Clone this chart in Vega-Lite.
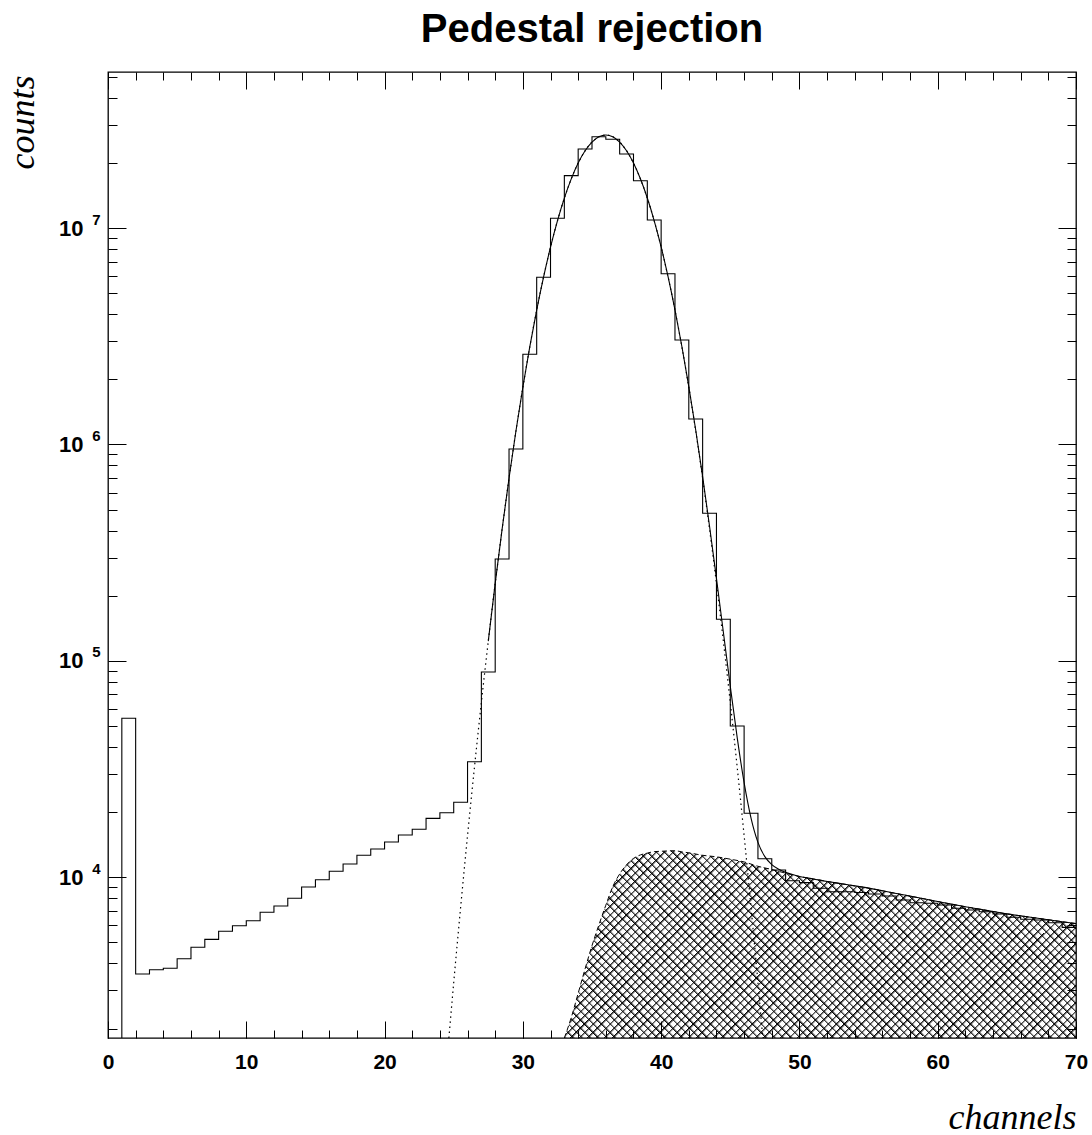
{
"$schema":"https://vega.github.io/schema/vega-lite/v6.json",
"autosize":{"type":"none"},
"padding":{"left":108,"top":72,"right":16,"bottom":97},
"width":968,"height":966,
"background":"#ffffff",
"title":{"text":"Pedestal rejection","font":"Liberation Sans","fontSize":40,"fontWeight":"bold","color":"#000","anchor":"middle","offset":22},
"config":{
 "view":{"stroke":"#000","strokeWidth":1.3},
 "axis":{"grid":false,"domain":false,"tickColor":"#000","tickWidth":1,"labelColor":"#000","titleColor":"#000","labelFont":"Liberation Sans","labelFontWeight":"bold","labelFontSize":21,"labelFlush":false,"labelOverlap":false,"zindex":1}
},
"datasets":{
 "hist":[{"x":0,"y":1},{"x":1,"y":54300},{"x":2,"y":3574},{"x":3,"y":3741},{"x":4,"y":3797},{"x":5,"y":4206},{"x":6,"y":4748},{"x":7,"y":5169},{"x":8,"y":5629},{"x":9,"y":5974},{"x":10,"y":6300},{"x":11,"y":6893},{"x":12,"y":7369},{"x":13,"y":7998},{"x":14,"y":9020},{"x":15,"y":9750},{"x":16,"y":10660},{"x":17,"y":11520},{"x":18,"y":12640},{"x":19,"y":13510},{"x":20,"y":14560},{"x":21,"y":15690},{"x":22,"y":16670},{"x":23,"y":18730},{"x":24,"y":19890},{"x":25,"y":22210},{"x":26,"y":34210},{"x":27,"y":88870},{"x":28,"y":295800},{"x":29,"y":953400},{"x":30,"y":2611000},{"x":31,"y":5924000},{"x":32,"y":11100000},{"x":33,"y":17470000},{"x":34,"y":23210000},{"x":35,"y":26450000},{"x":36,"y":25720000},{"x":37,"y":22000000},{"x":38,"y":16560000},{"x":39,"y":10900000},{"x":40,"y":6155000},{"x":41,"y":3040000},{"x":42,"y":1312000},{"x":43,"y":481000},{"x":44,"y":155700},{"x":45,"y":50030},{"x":46,"y":19760},{"x":47,"y":12190},{"x":48,"y":10810},{"x":49,"y":9645},{"x":50,"y":9445},{"x":51,"y":8896},{"x":52,"y":8581},{"x":53,"y":8581},{"x":54,"y":8508},{"x":55,"y":8373},{"x":56,"y":8196},{"x":57,"y":7855},{"x":58,"y":7632},{"x":59,"y":7584},{"x":60,"y":7447},{"x":61,"y":7190},{"x":62,"y":7062},{"x":63,"y":6935},{"x":64,"y":6767},{"x":65,"y":6534},{"x":66,"y":6396},{"x":67,"y":6349},{"x":68,"y":6168},{"x":69,"y":5873},{"x":70,"y":5873}],
 "fit":[{"x":27.5,"y":123400},{"x":28,"y":228200},{"x":28.5,"y":406600},{"x":29,"y":698300},{"x":29.5,"y":1154600},{"x":30,"y":1839000},{"x":30.5,"y":2824000},{"x":31,"y":4176000},{"x":31.5,"y":5950000},{"x":32,"y":8168000},{"x":32.5,"y":10800000},{"x":33,"y":13760000},{"x":33.5,"y":16890000},{"x":34,"y":19980000},{"x":34.5,"y":22760000},{"x":35,"y":24980000},{"x":35.5,"y":26420000},{"x":36,"y":26930000},{"x":36.5,"y":26430000},{"x":37,"y":24990000},{"x":37.5,"y":22770000},{"x":38,"y":19990000},{"x":38.5,"y":16900000},{"x":39,"y":13770000},{"x":39.5,"y":10810000},{"x":40,"y":8181000},{"x":40.5,"y":5963000},{"x":41,"y":4189000},{"x":41.5,"y":2837000},{"x":42,"y":1852000},{"x":42.5,"y":1167000},{"x":43,"y":710900},{"x":43.5,"y":419100},{"x":44,"y":240600},{"x":44.5,"y":135700},{"x":45,"y":76400},{"x":45.5,"y":44210},{"x":46,"y":27380},{"x":46.5,"y":18790},{"x":47,"y":14510},{"x":47.5,"y":12460},{"x":48,"y":11450},{"x":48.5,"y":10890},{"x":49,"y":10540},{"x":49.5,"y":10300},{"x":50,"y":10090},{"x":51,"y":9830},{"x":52,"y":9572},{"x":53,"y":9348},{"x":54,"y":9127},{"x":55,"y":8913},{"x":56,"y":8664},{"x":57,"y":8421},{"x":58,"y":8185},{"x":59,"y":7955},{"x":60,"y":7727},{"x":61,"y":7516},{"x":62,"y":7311},{"x":63,"y":7129},{"x":64,"y":6950},{"x":65,"y":6776},{"x":66,"y":6637},{"x":67,"y":6501},{"x":68,"y":6368},{"x":69,"y":6237},{"x":70,"y":6109}],
 "gaus":[{"x":24.65,"y":1809},{"x":25,"y":3261},{"x":25.5,"y":7267},{"x":26,"y":15600},{"x":26.5,"y":32260},{"x":27,"y":64270},{"x":27.5,"y":123400},{"x":28,"y":228200},{"x":28.5,"y":406600},{"x":29,"y":698300},{"x":29.5,"y":1154600},{"x":30,"y":1839000},{"x":30.5,"y":2824000},{"x":31,"y":4176000},{"x":31.5,"y":5950000},{"x":32,"y":8168000},{"x":32.5,"y":10800000},{"x":33,"y":13760000},{"x":33.5,"y":16890000},{"x":34,"y":19980000},{"x":34.5,"y":22760000},{"x":35,"y":24980000},{"x":35.5,"y":26420000},{"x":36,"y":26920000},{"x":36.5,"y":26420000},{"x":37,"y":24980000},{"x":37.5,"y":22760000},{"x":38,"y":19980000},{"x":38.5,"y":16890000},{"x":39,"y":13760000},{"x":39.5,"y":10800000},{"x":40,"y":8168000},{"x":40.5,"y":5950000},{"x":41,"y":4176000},{"x":41.5,"y":2824000},{"x":42,"y":1839000},{"x":42.5,"y":1154600},{"x":43,"y":698300},{"x":43.5,"y":406600},{"x":44,"y":228200},{"x":44.5,"y":123400},{"x":45,"y":64270},{"x":45.5,"y":32260},{"x":46,"y":15600},{"x":46.5,"y":7267},{"x":47,"y":3261},{"x":47.35,"y":1809}],
 "bg":[{"x":33,"y":1809},{"x":33.5,"y":2249},{"x":34,"y":2912},{"x":34.5,"y":3777},{"x":35,"y":4833},{"x":35.5,"y":6031},{"x":36,"y":7432},{"x":36.5,"y":9050},{"x":37,"y":10366},{"x":37.5,"y":11429},{"x":38,"y":12226},{"x":38.5,"y":12690},{"x":39,"y":12935},{"x":39.5,"y":13142},{"x":40,"y":13191},{"x":40.5,"y":13243},{"x":41,"y":13270},{"x":41.5,"y":13106},{"x":42,"y":12980},{"x":43,"y":12640},{"x":44,"y":12435},{"x":45,"y":12126},{"x":46,"y":11776},{"x":47,"y":11246},{"x":48,"y":10864},{"x":49,"y":10447},{"x":50,"y":10093},{"x":51,"y":9830},{"x":52,"y":9572},{"x":53,"y":9348},{"x":54,"y":9127},{"x":55,"y":8913},{"x":56,"y":8664},{"x":57,"y":8421},{"x":58,"y":8185},{"x":59,"y":7955},{"x":60,"y":7727},{"x":61,"y":7516},{"x":62,"y":7311},{"x":63,"y":7129},{"x":64,"y":6950},{"x":65,"y":6776},{"x":66,"y":6637},{"x":67,"y":6501},{"x":68,"y":6368},{"x":69,"y":6237},{"x":70,"y":6109}]
},
"resolve":{"axis":{"x":"independent","y":"independent"}},
"layer":[
 {"data":{"name":"bg"},
  "mark":{"type":"area","interpolate":"monotone","clip":true,"fill":{"gradient":"linear","x1":0,"y1":0,"x2":1.2046,"y2":0.441,"stops":[
{"offset":0,"color":"#000"},{"offset":0.0045,"color":"#0000"},{"offset":0.012,"color":"#0000"},{"offset":0.012,"color":"#000"},{"offset":0.0165,"color":"#0000"},{"offset":0.024,"color":"#0000"},{"offset":0.024,"color":"#000"},{"offset":0.0285,"color":"#0000"},{"offset":0.036,"color":"#0000"},{"offset":0.036,"color":"#000"},{"offset":0.0405,"color":"#0000"},{"offset":0.048,"color":"#0000"},{"offset":0.048,"color":"#000"},{"offset":0.0525,"color":"#0000"},{"offset":0.06,"color":"#0000"},{"offset":0.06,"color":"#000"},{"offset":0.0645,"color":"#0000"},{"offset":0.072,"color":"#0000"},{"offset":0.072,"color":"#000"},{"offset":0.0765,"color":"#0000"},{"offset":0.084,"color":"#0000"},{"offset":0.084,"color":"#000"},{"offset":0.0885,"color":"#0000"},{"offset":0.096,"color":"#0000"},{"offset":0.096,"color":"#000"},{"offset":0.1005,"color":"#0000"},{"offset":0.108,"color":"#0000"},{"offset":0.108,"color":"#000"},{"offset":0.1125,"color":"#0000"},{"offset":0.12,"color":"#0000"},
{"offset":0.12,"color":"#000"},{"offset":0.1245,"color":"#0000"},{"offset":0.132,"color":"#0000"},{"offset":0.132,"color":"#000"},{"offset":0.1365,"color":"#0000"},{"offset":0.144,"color":"#0000"},{"offset":0.144,"color":"#000"},{"offset":0.1485,"color":"#0000"},{"offset":0.156,"color":"#0000"},{"offset":0.156,"color":"#000"},{"offset":0.1605,"color":"#0000"},{"offset":0.168,"color":"#0000"},{"offset":0.168,"color":"#000"},{"offset":0.1725,"color":"#0000"},{"offset":0.18,"color":"#0000"},{"offset":0.18,"color":"#000"},{"offset":0.1845,"color":"#0000"},{"offset":0.192,"color":"#0000"},{"offset":0.192,"color":"#000"},{"offset":0.1965,"color":"#0000"},{"offset":0.204,"color":"#0000"},{"offset":0.204,"color":"#000"},{"offset":0.2085,"color":"#0000"},{"offset":0.216,"color":"#0000"},{"offset":0.216,"color":"#000"},{"offset":0.2205,"color":"#0000"},{"offset":0.228,"color":"#0000"},{"offset":0.228,"color":"#000"},{"offset":0.2325,"color":"#0000"},{"offset":0.24,"color":"#0000"},
{"offset":0.24,"color":"#000"},{"offset":0.2445,"color":"#0000"},{"offset":0.252,"color":"#0000"},{"offset":0.252,"color":"#000"},{"offset":0.2565,"color":"#0000"},{"offset":0.264,"color":"#0000"},{"offset":0.264,"color":"#000"},{"offset":0.2685,"color":"#0000"},{"offset":0.276,"color":"#0000"},{"offset":0.276,"color":"#000"},{"offset":0.2805,"color":"#0000"},{"offset":0.288,"color":"#0000"},{"offset":0.288,"color":"#000"},{"offset":0.2925,"color":"#0000"},{"offset":0.3,"color":"#0000"},{"offset":0.3,"color":"#000"},{"offset":0.3045,"color":"#0000"},{"offset":0.312,"color":"#0000"},{"offset":0.312,"color":"#000"},{"offset":0.3165,"color":"#0000"},{"offset":0.324,"color":"#0000"},{"offset":0.324,"color":"#000"},{"offset":0.3285,"color":"#0000"},{"offset":0.336,"color":"#0000"},{"offset":0.336,"color":"#000"},{"offset":0.3405,"color":"#0000"},{"offset":0.348,"color":"#0000"},{"offset":0.348,"color":"#000"},{"offset":0.3525,"color":"#0000"},{"offset":0.36,"color":"#0000"},
{"offset":0.36,"color":"#000"},{"offset":0.3645,"color":"#0000"},{"offset":0.372,"color":"#0000"},{"offset":0.372,"color":"#000"},{"offset":0.3765,"color":"#0000"},{"offset":0.384,"color":"#0000"},{"offset":0.384,"color":"#000"},{"offset":0.3885,"color":"#0000"},{"offset":0.396,"color":"#0000"},{"offset":0.396,"color":"#000"},{"offset":0.4005,"color":"#0000"},{"offset":0.408,"color":"#0000"},{"offset":0.408,"color":"#000"},{"offset":0.4125,"color":"#0000"},{"offset":0.42,"color":"#0000"},{"offset":0.42,"color":"#000"},{"offset":0.4245,"color":"#0000"},{"offset":0.432,"color":"#0000"},{"offset":0.432,"color":"#000"},{"offset":0.4365,"color":"#0000"},{"offset":0.444,"color":"#0000"},{"offset":0.444,"color":"#000"},{"offset":0.4485,"color":"#0000"},{"offset":0.456,"color":"#0000"},{"offset":0.456,"color":"#000"},{"offset":0.4605,"color":"#0000"},{"offset":0.468,"color":"#0000"},{"offset":0.468,"color":"#000"},{"offset":0.4725,"color":"#0000"},{"offset":0.48,"color":"#0000"},
{"offset":0.48,"color":"#000"},{"offset":0.4845,"color":"#0000"},{"offset":0.492,"color":"#0000"},{"offset":0.492,"color":"#000"},{"offset":0.4965,"color":"#0000"},{"offset":0.504,"color":"#0000"},{"offset":0.504,"color":"#000"},{"offset":0.5085,"color":"#0000"},{"offset":0.516,"color":"#0000"},{"offset":0.516,"color":"#000"},{"offset":0.5205,"color":"#0000"},{"offset":0.528,"color":"#0000"},{"offset":0.528,"color":"#000"},{"offset":0.5325,"color":"#0000"},{"offset":0.54,"color":"#0000"},{"offset":0.54,"color":"#000"},{"offset":0.5445,"color":"#0000"},{"offset":0.552,"color":"#0000"},{"offset":0.552,"color":"#000"},{"offset":0.5565,"color":"#0000"},{"offset":0.564,"color":"#0000"},{"offset":0.564,"color":"#000"},{"offset":0.5685,"color":"#0000"},{"offset":0.576,"color":"#0000"},{"offset":0.576,"color":"#000"},{"offset":0.5805,"color":"#0000"},{"offset":0.588,"color":"#0000"},{"offset":0.588,"color":"#000"},{"offset":0.5925,"color":"#0000"},{"offset":0.6,"color":"#0000"},
{"offset":0.6,"color":"#000"},{"offset":0.6045,"color":"#0000"},{"offset":0.612,"color":"#0000"},{"offset":0.612,"color":"#000"},{"offset":0.6165,"color":"#0000"},{"offset":0.624,"color":"#0000"},{"offset":0.624,"color":"#000"},{"offset":0.6285,"color":"#0000"},{"offset":0.636,"color":"#0000"},{"offset":0.636,"color":"#000"},{"offset":0.6405,"color":"#0000"},{"offset":0.648,"color":"#0000"},{"offset":0.648,"color":"#000"},{"offset":0.6525,"color":"#0000"},{"offset":0.66,"color":"#0000"},{"offset":0.66,"color":"#000"},{"offset":0.6645,"color":"#0000"},{"offset":0.672,"color":"#0000"},{"offset":0.672,"color":"#000"},{"offset":0.6765,"color":"#0000"},{"offset":0.684,"color":"#0000"},{"offset":0.684,"color":"#000"},{"offset":0.6885,"color":"#0000"},{"offset":0.696,"color":"#0000"},{"offset":0.696,"color":"#000"},{"offset":0.7005,"color":"#0000"},{"offset":0.708,"color":"#0000"},{"offset":0.708,"color":"#000"},{"offset":0.7125,"color":"#0000"},{"offset":0.72,"color":"#0000"},
{"offset":0.72,"color":"#000"},{"offset":0.7245,"color":"#0000"},{"offset":0.732,"color":"#0000"},{"offset":0.732,"color":"#000"},{"offset":0.7365,"color":"#0000"},{"offset":0.744,"color":"#0000"},{"offset":0.744,"color":"#000"},{"offset":0.7485,"color":"#0000"},{"offset":0.756,"color":"#0000"},{"offset":0.756,"color":"#000"},{"offset":0.7605,"color":"#0000"},{"offset":0.768,"color":"#0000"},{"offset":0.768,"color":"#000"},{"offset":0.7725,"color":"#0000"},{"offset":0.78,"color":"#0000"},{"offset":0.78,"color":"#000"},{"offset":0.7845,"color":"#0000"},{"offset":0.792,"color":"#0000"},{"offset":0.792,"color":"#000"},{"offset":0.7965,"color":"#0000"},{"offset":0.804,"color":"#0000"},{"offset":0.804,"color":"#000"},{"offset":0.8085,"color":"#0000"},{"offset":0.816,"color":"#0000"},{"offset":0.816,"color":"#000"},{"offset":0.8205,"color":"#0000"},{"offset":0.828,"color":"#0000"},{"offset":0.828,"color":"#000"},{"offset":0.8325,"color":"#0000"},{"offset":0.84,"color":"#0000"},
{"offset":0.84,"color":"#000"},{"offset":0.8445,"color":"#0000"},{"offset":0.852,"color":"#0000"},{"offset":0.852,"color":"#000"},{"offset":0.8565,"color":"#0000"},{"offset":0.864,"color":"#0000"},{"offset":0.864,"color":"#000"},{"offset":0.8685,"color":"#0000"},{"offset":0.876,"color":"#0000"},{"offset":0.876,"color":"#000"},{"offset":0.8805,"color":"#0000"},{"offset":0.888,"color":"#0000"},{"offset":0.888,"color":"#000"},{"offset":0.8925,"color":"#0000"},{"offset":0.9,"color":"#0000"},{"offset":0.9,"color":"#000"},{"offset":0.9045,"color":"#0000"},{"offset":0.912,"color":"#0000"},{"offset":0.912,"color":"#000"},{"offset":0.9165,"color":"#0000"},{"offset":0.924,"color":"#0000"},{"offset":0.924,"color":"#000"},{"offset":0.9285,"color":"#0000"},{"offset":0.936,"color":"#0000"},{"offset":0.936,"color":"#000"},{"offset":0.9405,"color":"#0000"},{"offset":0.948,"color":"#0000"},{"offset":0.948,"color":"#000"},{"offset":0.9525,"color":"#0000"},{"offset":0.96,"color":"#0000"},
{"offset":0.96,"color":"#000"},{"offset":0.9645,"color":"#0000"},{"offset":0.972,"color":"#0000"},{"offset":0.972,"color":"#000"},{"offset":0.9765,"color":"#0000"},{"offset":0.984,"color":"#0000"},{"offset":0.984,"color":"#000"},{"offset":0.9885,"color":"#0000"},{"offset":0.996,"color":"#0000"},{"offset":0.996,"color":"#000"},{"offset":1,"color":"#0000"}
]}},
  "encoding":{
   "x":{"field":"x","type":"quantitative","scale":{"domain":[0,70],"nice":false,"zero":false},
    "axis":{"orient":"bottom","values":[0,10,20,30,40,50,60,70],"tickSize":-17,"labelPadding":30,"title":"channels","titleFont":"Liberation Serif","titleFontStyle":"italic","titleFontWeight":"normal","titleFontSize":36,"titleAlign":"right","titleBaseline":"alphabetic","titleX":968,"titleY":90}},
   "y":{"field":"y","type":"quantitative","scale":{"type":"log","domain":[1809,52640000],"nice":false},
    "axis":{"orient":"left","values":[10000,100000,1000000,10000000],"tickSize":-18,"labelPadding":43,"labelFontSize":22,"labelExpr":"'10'","title":"counts","titleFont":"Liberation Serif","titleFontStyle":"italic","titleFontWeight":"normal","titleFontSize":36,"titleAngle":270,"titleAlign":"right","titleBaseline":"alphabetic","titleX":-75,"titleY":3}},
   "y2":{"datum":1809}
  }},
 {"data":{"name":"bg"},
  "mark":{"type":"area","interpolate":"monotone","clip":true,"fill":{"gradient":"linear","x1":0,"y1":1,"x2":1.2046,"y2":0.559,"stops":[
{"offset":0,"color":"#000"},{"offset":0.0045,"color":"#0000"},{"offset":0.012,"color":"#0000"},{"offset":0.012,"color":"#000"},{"offset":0.0165,"color":"#0000"},{"offset":0.024,"color":"#0000"},{"offset":0.024,"color":"#000"},{"offset":0.0285,"color":"#0000"},{"offset":0.036,"color":"#0000"},{"offset":0.036,"color":"#000"},{"offset":0.0405,"color":"#0000"},{"offset":0.048,"color":"#0000"},{"offset":0.048,"color":"#000"},{"offset":0.0525,"color":"#0000"},{"offset":0.06,"color":"#0000"},{"offset":0.06,"color":"#000"},{"offset":0.0645,"color":"#0000"},{"offset":0.072,"color":"#0000"},{"offset":0.072,"color":"#000"},{"offset":0.0765,"color":"#0000"},{"offset":0.084,"color":"#0000"},{"offset":0.084,"color":"#000"},{"offset":0.0885,"color":"#0000"},{"offset":0.096,"color":"#0000"},{"offset":0.096,"color":"#000"},{"offset":0.1005,"color":"#0000"},{"offset":0.108,"color":"#0000"},{"offset":0.108,"color":"#000"},{"offset":0.1125,"color":"#0000"},{"offset":0.12,"color":"#0000"},
{"offset":0.12,"color":"#000"},{"offset":0.1245,"color":"#0000"},{"offset":0.132,"color":"#0000"},{"offset":0.132,"color":"#000"},{"offset":0.1365,"color":"#0000"},{"offset":0.144,"color":"#0000"},{"offset":0.144,"color":"#000"},{"offset":0.1485,"color":"#0000"},{"offset":0.156,"color":"#0000"},{"offset":0.156,"color":"#000"},{"offset":0.1605,"color":"#0000"},{"offset":0.168,"color":"#0000"},{"offset":0.168,"color":"#000"},{"offset":0.1725,"color":"#0000"},{"offset":0.18,"color":"#0000"},{"offset":0.18,"color":"#000"},{"offset":0.1845,"color":"#0000"},{"offset":0.192,"color":"#0000"},{"offset":0.192,"color":"#000"},{"offset":0.1965,"color":"#0000"},{"offset":0.204,"color":"#0000"},{"offset":0.204,"color":"#000"},{"offset":0.2085,"color":"#0000"},{"offset":0.216,"color":"#0000"},{"offset":0.216,"color":"#000"},{"offset":0.2205,"color":"#0000"},{"offset":0.228,"color":"#0000"},{"offset":0.228,"color":"#000"},{"offset":0.2325,"color":"#0000"},{"offset":0.24,"color":"#0000"},
{"offset":0.24,"color":"#000"},{"offset":0.2445,"color":"#0000"},{"offset":0.252,"color":"#0000"},{"offset":0.252,"color":"#000"},{"offset":0.2565,"color":"#0000"},{"offset":0.264,"color":"#0000"},{"offset":0.264,"color":"#000"},{"offset":0.2685,"color":"#0000"},{"offset":0.276,"color":"#0000"},{"offset":0.276,"color":"#000"},{"offset":0.2805,"color":"#0000"},{"offset":0.288,"color":"#0000"},{"offset":0.288,"color":"#000"},{"offset":0.2925,"color":"#0000"},{"offset":0.3,"color":"#0000"},{"offset":0.3,"color":"#000"},{"offset":0.3045,"color":"#0000"},{"offset":0.312,"color":"#0000"},{"offset":0.312,"color":"#000"},{"offset":0.3165,"color":"#0000"},{"offset":0.324,"color":"#0000"},{"offset":0.324,"color":"#000"},{"offset":0.3285,"color":"#0000"},{"offset":0.336,"color":"#0000"},{"offset":0.336,"color":"#000"},{"offset":0.3405,"color":"#0000"},{"offset":0.348,"color":"#0000"},{"offset":0.348,"color":"#000"},{"offset":0.3525,"color":"#0000"},{"offset":0.36,"color":"#0000"},
{"offset":0.36,"color":"#000"},{"offset":0.3645,"color":"#0000"},{"offset":0.372,"color":"#0000"},{"offset":0.372,"color":"#000"},{"offset":0.3765,"color":"#0000"},{"offset":0.384,"color":"#0000"},{"offset":0.384,"color":"#000"},{"offset":0.3885,"color":"#0000"},{"offset":0.396,"color":"#0000"},{"offset":0.396,"color":"#000"},{"offset":0.4005,"color":"#0000"},{"offset":0.408,"color":"#0000"},{"offset":0.408,"color":"#000"},{"offset":0.4125,"color":"#0000"},{"offset":0.42,"color":"#0000"},{"offset":0.42,"color":"#000"},{"offset":0.4245,"color":"#0000"},{"offset":0.432,"color":"#0000"},{"offset":0.432,"color":"#000"},{"offset":0.4365,"color":"#0000"},{"offset":0.444,"color":"#0000"},{"offset":0.444,"color":"#000"},{"offset":0.4485,"color":"#0000"},{"offset":0.456,"color":"#0000"},{"offset":0.456,"color":"#000"},{"offset":0.4605,"color":"#0000"},{"offset":0.468,"color":"#0000"},{"offset":0.468,"color":"#000"},{"offset":0.4725,"color":"#0000"},{"offset":0.48,"color":"#0000"},
{"offset":0.48,"color":"#000"},{"offset":0.4845,"color":"#0000"},{"offset":0.492,"color":"#0000"},{"offset":0.492,"color":"#000"},{"offset":0.4965,"color":"#0000"},{"offset":0.504,"color":"#0000"},{"offset":0.504,"color":"#000"},{"offset":0.5085,"color":"#0000"},{"offset":0.516,"color":"#0000"},{"offset":0.516,"color":"#000"},{"offset":0.5205,"color":"#0000"},{"offset":0.528,"color":"#0000"},{"offset":0.528,"color":"#000"},{"offset":0.5325,"color":"#0000"},{"offset":0.54,"color":"#0000"},{"offset":0.54,"color":"#000"},{"offset":0.5445,"color":"#0000"},{"offset":0.552,"color":"#0000"},{"offset":0.552,"color":"#000"},{"offset":0.5565,"color":"#0000"},{"offset":0.564,"color":"#0000"},{"offset":0.564,"color":"#000"},{"offset":0.5685,"color":"#0000"},{"offset":0.576,"color":"#0000"},{"offset":0.576,"color":"#000"},{"offset":0.5805,"color":"#0000"},{"offset":0.588,"color":"#0000"},{"offset":0.588,"color":"#000"},{"offset":0.5925,"color":"#0000"},{"offset":0.6,"color":"#0000"},
{"offset":0.6,"color":"#000"},{"offset":0.6045,"color":"#0000"},{"offset":0.612,"color":"#0000"},{"offset":0.612,"color":"#000"},{"offset":0.6165,"color":"#0000"},{"offset":0.624,"color":"#0000"},{"offset":0.624,"color":"#000"},{"offset":0.6285,"color":"#0000"},{"offset":0.636,"color":"#0000"},{"offset":0.636,"color":"#000"},{"offset":0.6405,"color":"#0000"},{"offset":0.648,"color":"#0000"},{"offset":0.648,"color":"#000"},{"offset":0.6525,"color":"#0000"},{"offset":0.66,"color":"#0000"},{"offset":0.66,"color":"#000"},{"offset":0.6645,"color":"#0000"},{"offset":0.672,"color":"#0000"},{"offset":0.672,"color":"#000"},{"offset":0.6765,"color":"#0000"},{"offset":0.684,"color":"#0000"},{"offset":0.684,"color":"#000"},{"offset":0.6885,"color":"#0000"},{"offset":0.696,"color":"#0000"},{"offset":0.696,"color":"#000"},{"offset":0.7005,"color":"#0000"},{"offset":0.708,"color":"#0000"},{"offset":0.708,"color":"#000"},{"offset":0.7125,"color":"#0000"},{"offset":0.72,"color":"#0000"},
{"offset":0.72,"color":"#000"},{"offset":0.7245,"color":"#0000"},{"offset":0.732,"color":"#0000"},{"offset":0.732,"color":"#000"},{"offset":0.7365,"color":"#0000"},{"offset":0.744,"color":"#0000"},{"offset":0.744,"color":"#000"},{"offset":0.7485,"color":"#0000"},{"offset":0.756,"color":"#0000"},{"offset":0.756,"color":"#000"},{"offset":0.7605,"color":"#0000"},{"offset":0.768,"color":"#0000"},{"offset":0.768,"color":"#000"},{"offset":0.7725,"color":"#0000"},{"offset":0.78,"color":"#0000"},{"offset":0.78,"color":"#000"},{"offset":0.7845,"color":"#0000"},{"offset":0.792,"color":"#0000"},{"offset":0.792,"color":"#000"},{"offset":0.7965,"color":"#0000"},{"offset":0.804,"color":"#0000"},{"offset":0.804,"color":"#000"},{"offset":0.8085,"color":"#0000"},{"offset":0.816,"color":"#0000"},{"offset":0.816,"color":"#000"},{"offset":0.8205,"color":"#0000"},{"offset":0.828,"color":"#0000"},{"offset":0.828,"color":"#000"},{"offset":0.8325,"color":"#0000"},{"offset":0.84,"color":"#0000"},
{"offset":0.84,"color":"#000"},{"offset":0.8445,"color":"#0000"},{"offset":0.852,"color":"#0000"},{"offset":0.852,"color":"#000"},{"offset":0.8565,"color":"#0000"},{"offset":0.864,"color":"#0000"},{"offset":0.864,"color":"#000"},{"offset":0.8685,"color":"#0000"},{"offset":0.876,"color":"#0000"},{"offset":0.876,"color":"#000"},{"offset":0.8805,"color":"#0000"},{"offset":0.888,"color":"#0000"},{"offset":0.888,"color":"#000"},{"offset":0.8925,"color":"#0000"},{"offset":0.9,"color":"#0000"},{"offset":0.9,"color":"#000"},{"offset":0.9045,"color":"#0000"},{"offset":0.912,"color":"#0000"},{"offset":0.912,"color":"#000"},{"offset":0.9165,"color":"#0000"},{"offset":0.924,"color":"#0000"},{"offset":0.924,"color":"#000"},{"offset":0.9285,"color":"#0000"},{"offset":0.936,"color":"#0000"},{"offset":0.936,"color":"#000"},{"offset":0.9405,"color":"#0000"},{"offset":0.948,"color":"#0000"},{"offset":0.948,"color":"#000"},{"offset":0.9525,"color":"#0000"},{"offset":0.96,"color":"#0000"},
{"offset":0.96,"color":"#000"},{"offset":0.9645,"color":"#0000"},{"offset":0.972,"color":"#0000"},{"offset":0.972,"color":"#000"},{"offset":0.9765,"color":"#0000"},{"offset":0.984,"color":"#0000"},{"offset":0.984,"color":"#000"},{"offset":0.9885,"color":"#0000"},{"offset":0.996,"color":"#0000"},{"offset":0.996,"color":"#000"},{"offset":1,"color":"#0000"}
]}},
  "encoding":{
   "x":{"field":"x","type":"quantitative","axis":null},
   "y":{"field":"y","type":"quantitative","axis":null},
   "y2":{"datum":1809}
  }},
 {"data":{"name":"bg"},
  "mark":{"type":"line","stroke":"#000","strokeWidth":1,"strokeDash":[5,3],"interpolate":"monotone","clip":true},
  "encoding":{
   "x":{"field":"x","type":"quantitative","axis":{"orient":"bottom","values":[0,2,4,6,8,10,12,14,16,18,20,22,24,26,28,30,32,34,36,38,40,42,44,46,48,50,52,54,56,58,60,62,64,66,68,70],"tickSize":-8,"labels":false,"title":null}},
   "y":{"field":"y","type":"quantitative","axis":{"orient":"left","values":[10000,100000,1000000,10000000],"ticks":false,"tickSize":0,"labelPadding":8,"labelFontSize":15,"labelOffset":-9,"labelExpr":"format(round(log(datum.value)/LN10),'d')","title":null}}
  }},
 {"data":{"name":"gaus"},
  "mark":{"type":"line","stroke":"#000","strokeWidth":1.2,"strokeDash":[1.5,3.5],"interpolate":"monotone","clip":true},
  "encoding":{
   "x":{"field":"x","type":"quantitative","axis":{"orient":"top","values":[0,10,20,30,40,50,60,70],"tickSize":-17,"labels":false,"title":null}},
   "y":{"field":"y","type":"quantitative","axis":{"orient":"left","values":[2000,3000,4000,5000,6000,7000,8000,9000,20000,30000,40000,50000,60000,70000,80000,90000,200000,300000,400000,500000,600000,700000,800000,900000,2000000,3000000,4000000,5000000,6000000,7000000,8000000,9000000,20000000,30000000,40000000,50000000],"tickSize":-9,"labels":false,"title":null}}
  }},
 {"data":{"name":"fit"},
  "mark":{"type":"line","stroke":"#000","strokeWidth":1.1,"interpolate":"monotone","clip":true},
  "encoding":{
   "x":{"field":"x","type":"quantitative","axis":{"orient":"top","values":[0,2,4,6,8,10,12,14,16,18,20,22,24,26,28,30,32,34,36,38,40,42,44,46,48,50,52,54,56,58,60,62,64,66,68,70],"tickSize":-8,"labels":false,"title":null}},
   "y":{"field":"y","type":"quantitative","axis":{"orient":"right","values":[10000,100000,1000000,10000000],"tickSize":-18,"labels":false,"title":null}}
  }},
 {"data":{"name":"hist"},
  "mark":{"type":"line","stroke":"#000","strokeWidth":1.1,"interpolate":"step-after","clip":true},
  "encoding":{
   "x":{"field":"x","type":"quantitative","axis":null},
   "y":{"field":"y","type":"quantitative","axis":{"orient":"right","values":[2000,3000,4000,5000,6000,7000,8000,9000,20000,30000,40000,50000,60000,70000,80000,90000,200000,300000,400000,500000,600000,700000,800000,900000,2000000,3000000,4000000,5000000,6000000,7000000,8000000,9000000,20000000,30000000,40000000,50000000],"tickSize":-9,"labels":false,"title":null}}
  }}
]
}
